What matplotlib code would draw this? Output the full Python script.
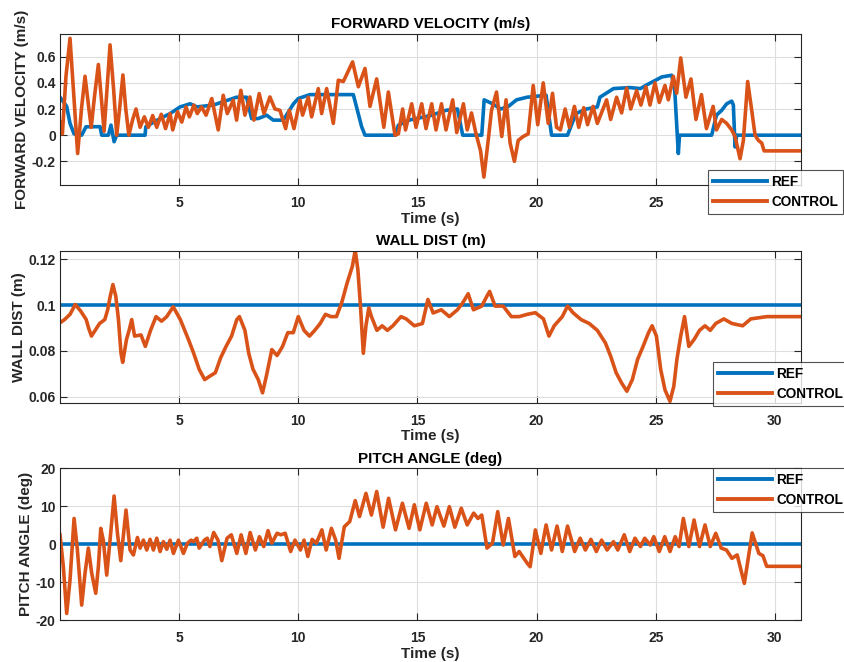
import numpy as np
import matplotlib
matplotlib.use("Agg")
from matplotlib import pyplot as plt

plt.rcParams['font.family'] = ['Liberation Sans', 'DejaVu Sans']

# time span of the record
t_end = 31.1

# ---- FORWARD VELOCITY (m/s) ----
vel_ref_pts = [
    (0.0, 0.29), (0.28, 0.22), (0.42, 0.09), (0.59, 0.01), (0.91, 0.0), (1.09, 0.064),
    (1.68, 0.065), (1.75, 0.0), (2.03, 0.0), (2.14, 0.077), (2.27, -0.05), (2.38, 0.0),
    (3.57, 0.0), (3.6, 0.064), (4.2, 0.127), (4.62, 0.165), (5.04, 0.216), (5.46, 0.24),
    (5.74, 0.216), (6.43, 0.23), (7.41, 0.29), (7.83, 0.29), (8.04, 0.127), (8.32, 0.127),
    (8.67, 0.153), (8.95, 0.115), (9.37, 0.115), (9.8, 0.24), (10.0, 0.28), (10.49, 0.31),
    (12.31, 0.31), (12.66, 0.064), (12.8, 0.0), (14.08, 0.0), (14.2, 0.076), (14.65, 0.115),
    (15.55, 0.15), (16.2, 0.19), (16.68, 0.2), (16.9, 0.0), (17.7, 0.0), (17.8, 0.27),
    (18.15, 0.24), (18.5, 0.2), (18.82, 0.22), (19.16, 0.27), (19.6, 0.29), (20.4, 0.305),
    (20.63, 0.0), (21.3, 0.0), (21.65, 0.165), (22.1, 0.2), (22.55, 0.216), (22.66, 0.29),
    (23.23, 0.356), (23.9, 0.364), (24.36, 0.356), (24.58, 0.38), (25.26, 0.445), (25.67, 0.458),
    (25.8, 0.34), (25.95, -0.14), (26.0, 0.0), (27.35, 0.0), (27.55, 0.153), (27.77, 0.19),
    (27.98, 0.24), (28.19, 0.26), (28.26, 0.23), (28.33, -0.09), (28.4, 0.0), (t_end, 0.0),
]
vel_ctl_pts = [
    (0.0, 0.10), (0.10, 0.01), (0.25, 0.45), (0.42, 0.74), (0.58, 0.30), (0.74, -0.14),
    (0.90, 0.20), (1.05, 0.45), (1.20, 0.22), (1.31, 0.06), (1.45, 0.30), (1.61, 0.54),
    (1.75, 0.25), (1.85, 0.03), (1.97, 0.35), (2.10, 0.69), (2.25, 0.35), (2.38, 0.0),
    (2.50, 0.20), (2.64, 0.46), (2.76, 0.20), (2.89, 0.0), (3.05, 0.12), (3.19, 0.20),
    (3.36, 0.06), (3.54, 0.14), (3.71, 0.06), (3.89, 0.15), (4.06, 0.06), (4.25, 0.16),
    (4.43, 0.05), (4.62, 0.165), (4.73, 0.04), (4.93, 0.18), (5.11, 0.10), (5.29, 0.216),
    (5.43, 0.14), (5.62, 0.23), (5.76, 0.165), (5.94, 0.216), (6.13, 0.153), (6.37, 0.28),
    (6.64, 0.04), (6.85, 0.305), (7.02, 0.165), (7.27, 0.267), (7.41, 0.115), (7.59, 0.343),
    (7.76, 0.153), (7.97, 0.292), (8.14, 0.115), (8.36, 0.318), (8.56, 0.165), (8.81, 0.292),
    (9.02, 0.2), (9.23, 0.19), (9.47, 0.05), (9.62, 0.19), (9.82, 0.05), (10.07, 0.267),
    (10.18, 0.153), (10.42, 0.29), (10.56, 0.14), (10.84, 0.356), (10.98, 0.165), (11.19, 0.356),
    (11.47, 0.09), (11.68, 0.42), (11.89, 0.41), (12.28, 0.56), (12.52, 0.37), (12.8, 0.51),
    (13.01, 0.22), (13.29, 0.43), (13.59, 0.06), (13.78, 0.33), (14.06, 0.0), (14.2, 0.01),
    (14.38, 0.20), (14.50, 0.04),
    (14.76, 0.24), (14.94, 0.06), (15.18, 0.24), (15.36, 0.05), (15.60, 0.24), (15.78, 0.04),
    (16.01, 0.24), (16.20, 0.04), (16.48, 0.27), (16.65, 0.02), (16.93, 0.24), (17.09, 0.04),
    (17.27, 0.17), (17.46, 0.01), (17.65, -0.12), (17.79, -0.32), (17.97, -0.04), (18.11, 0.19),
    (18.32, 0.33), (18.54, -0.01), (18.72, 0.27), (18.89, -0.06), (19.07, -0.20), (19.23, -0.04),
    (19.44, -0.01), (19.65, 0.01), (19.86, 0.38), (20.05, 0.08), (20.28, 0.40), (20.49, 0.09),
    (20.67, 0.32), (20.84, 0.06), (21.00, 0.04), (21.20, 0.20), (21.38, 0.06), (21.59, 0.22),
    (21.77, 0.06), (21.98, 0.21), (22.14, 0.08), (22.37, 0.22), (22.55, 0.09), (22.94, 0.27),
    (23.11, 0.12), (23.36, 0.29), (23.57, 0.17), (23.78, 0.36), (23.95, 0.20), (24.20, 0.34),
    (24.38, 0.23), (24.59, 0.37), (24.76, 0.23), (24.97, 0.40), (25.15, 0.25), (25.39, 0.38),
    (25.53, 0.27), (25.74, 0.45), (25.88, 0.32), (26.05, 0.59), (26.27, 0.29), (26.48, 0.43),
    (26.69, 0.12), (26.92, 0.31), (27.13, 0.05), (27.41, 0.22), (27.55, 0.04), (27.77, 0.12),
    (27.98, 0.09), (28.19, 0.04), (28.33, -0.01), (28.54, -0.18), (28.68, -0.04), (28.86, 0.41),
    (29.03, 0.19), (29.17, 0.0), (29.31, -0.04), (29.45, -0.06), (29.55, -0.12), (t_end, -0.12),
]

# ---- WALL DIST (m) ----
wall_ref_pts = [(0.0, 0.1), (t_end, 0.1)]
wall_ctl_pts = [
    (0.0, 0.0923), (0.19, 0.0937), (0.42, 0.096), (0.64, 0.1003), (0.87, 0.0974), (1.1, 0.0937),
    (1.2, 0.090), (1.32, 0.0865), (1.66, 0.092), (1.88, 0.0937), (2.0, 0.098), (2.11, 0.104),
    (2.22, 0.109), (2.34, 0.104), (2.45, 0.094), (2.56, 0.079), (2.63, 0.075), (2.79, 0.085),
    (2.9, 0.089), (3.01, 0.0937), (3.13, 0.0865), (3.4, 0.087), (3.58, 0.082), (3.8, 0.089),
    (4.03, 0.095), (4.26, 0.093), (4.48, 0.095), (4.75, 0.0993), (5.05, 0.0937), (5.39, 0.085),
    (5.61, 0.079), (5.84, 0.072), (6.07, 0.0675), (6.29, 0.069), (6.52, 0.0705), (6.74, 0.077),
    (6.97, 0.082), (7.2, 0.0865), (7.42, 0.0937), (7.53, 0.095), (7.76, 0.089), (7.92, 0.079),
    (8.1, 0.072), (8.32, 0.0675), (8.5, 0.0617), (8.66, 0.069), (8.89, 0.0806), (9.11, 0.078),
    (9.34, 0.082), (9.56, 0.088), (9.79, 0.088), (10.0, 0.095), (10.24, 0.089), (10.47, 0.0865),
    (10.69, 0.089), (10.92, 0.092), (11.14, 0.096), (11.37, 0.095), (11.6, 0.095), (11.82, 0.101),
    (12.05, 0.1097), (12.27, 0.117), (12.39, 0.124), (12.5, 0.1156), (12.61, 0.0996), (12.73, 0.079),
    (12.84, 0.091), (12.96, 0.0988), (13.07, 0.095), (13.3, 0.089), (13.52, 0.091), (13.74, 0.089),
    (13.97, 0.091), (14.31, 0.095), (14.53, 0.094), (14.87, 0.091), (15.21, 0.092), (15.44, 0.1025),
    (15.66, 0.0966), (16.0, 0.098), (16.34, 0.095), (16.68, 0.098), (16.9, 0.101), (17.13, 0.105),
    (17.35, 0.098), (17.7, 0.0996), (17.92, 0.104), (18.03, 0.106), (18.26, 0.0996), (18.6, 0.0996),
    (18.94, 0.095), (19.27, 0.095), (19.61, 0.096), (19.95, 0.0967), (20.29, 0.094), (20.52, 0.0865),
    (20.74, 0.091), (21.08, 0.095), (21.3, 0.0996), (21.53, 0.0967), (21.87, 0.0937), (22.21, 0.092),
    (22.55, 0.089), (22.89, 0.0835), (23.11, 0.0777), (23.34, 0.0705), (23.57, 0.066), (23.79, 0.0624),
    (24.02, 0.0675), (24.24, 0.0763), (24.47, 0.082), (24.7, 0.088), (24.85, 0.091), (25.03, 0.0865),
    (25.21, 0.0719), (25.39, 0.063), (25.6, 0.058), (25.76, 0.0646), (25.89, 0.0763), (26.05, 0.0865),
    (26.21, 0.095), (26.39, 0.082), (26.61, 0.085), (26.84, 0.089), (27.07, 0.091), (27.29, 0.089),
    (27.52, 0.092), (27.86, 0.094), (28.2, 0.092), (28.65, 0.091), (28.99, 0.094), (29.33, 0.0945),
    (29.66, 0.095), (t_end, 0.095),
]

# ---- PITCH ANGLE (deg) ----
pitch_ref_pts = [(0.0, 0.0), (t_end, 0.0)]
pitch_ctl_pts = [
    (0.0, 2.5), (0.14, -5.9), (0.28, -18.2), (0.42, -9.4), (0.59, 6.8), (0.73, -1.5),
    (0.91, -16.0), (1.05, -7.6), (1.19, -1.0), (1.33, -7.6), (1.5, -12.9), (1.61, -5.9),
    (1.71, 4.2), (1.82, 1.0), (1.96, -8.1), (2.1, 1.1), (2.27, 12.7), (2.41, 2.9),
    (2.55, -4.3), (2.77, 9.0), (2.94, -1.5), (3.08, -2.8), (3.25, 1.8), (3.36, -1.0),
    (3.5, 1.1), (3.64, -1.5), (3.78, 1.3), (3.92, -1.5), (4.06, 1.6), (4.2, -1.9),
    (4.34, 0.7), (4.48, -1.3), (4.62, 1.1), (4.76, -2.4), (4.97, 1.1), (5.18, -2.4),
    (5.35, 0.3), (5.5, 1.1), (5.6, 0.7), (5.74, 1.6), (5.84, -1.0), (6.06, 1.1),
    (6.18, 1.6), (6.29, -0.6), (6.45, 3.1), (6.63, 1.1), (6.79, -4.3), (7.01, 1.6),
    (7.19, 2.5), (7.42, -2.4), (7.6, 2.5), (7.8, -2.4), (7.98, 3.1), (8.2, -1.5),
    (8.37, 2.0), (8.55, -0.6), (8.73, 3.6), (8.89, 0.3), (9.11, 2.9), (9.27, 2.5),
    (9.45, 2.9), (9.68, -1.9), (9.86, 1.1), (10.09, -1.5), (10.24, 1.1), (10.4, -3.2),
    (10.58, 1.3), (10.76, 0.3), (10.99, 3.8), (11.17, -1.5), (11.39, 4.2), (11.57, 1.1),
    (11.71, -3.7), (11.93, 4.6), (12.16, 6.0), (12.39, 11.5), (12.57, 7.3), (12.84, 13.4),
    (13.07, 7.7), (13.29, 13.9), (13.56, 4.5), (13.79, 12.1), (14.08, 3.8), (14.37, 10.8),
    (14.65, 4.2), (14.87, 10.4), (15.1, 3.8), (15.37, 10.8), (15.62, 5.1), (15.82, 9.9),
    (16.11, 4.8), (16.34, 9.9), (16.57, 4.5), (16.84, 9.5), (17.09, 5.1), (17.36, 8.2),
    (17.54, 6.8), (17.7, 7.7), (17.92, -1.0), (18.15, 0.3), (18.37, 8.6), (18.6, -0.2),
    (18.82, 6.8), (19.09, -3.2), (19.27, -1.9), (19.61, -5.0), (19.73, -5.9), (19.95, 3.8),
    (20.18, -2.4), (20.4, 5.1), (20.63, -1.5), (20.86, 4.8), (21.08, -1.9), (21.3, 4.8),
    (21.6, -1.9), (21.83, 1.6), (22.05, -1.5), (22.28, 1.3), (22.51, -1.9), (22.73, 1.1),
    (22.96, -1.5), (23.23, 0.7), (23.41, -1.5), (23.68, 2.5), (23.91, -1.9), (24.13, 1.6),
    (24.36, -0.6), (24.54, 1.6), (24.77, -0.2), (24.92, 2.0), (25.15, -1.9), (25.38, 2.0),
    (25.6, -1.9), (25.82, 2.0), (25.98, -0.6), (26.16, 6.8), (26.39, -0.6), (26.61, 6.4),
    (26.84, -0.6), (27.07, 5.1), (27.29, -0.6), (27.52, 2.9), (27.75, -1.0), (27.97, -1.5),
    (28.2, -3.7), (28.42, -2.8), (28.72, -10.3), (28.94, -1.5), (29.05, 3.0), (29.33, -2.4),
    (29.5, -3.0), (29.66, -5.8), (t_end, -5.8),
]

x_ticks = [5, 10, 15, 20, 25, 30]
# in the top panel the legend hides the "30" label
vel_xlabels = ['5', '10', '15', '20', '25', '']
xlabels = ['5', '10', '15', '20', '25', '30']
vel_yticks = [-0.2, 0, 0.2, 0.4, 0.6]
vel_ylabels = ['-0.2', '0', '0.2', '0.4', '0.6']
wall_yticks = [0.06, 0.08, 0.1, 0.12]
wall_ylabels = ['0.06', '0.08', '0.1', '0.12']
pitch_yticks = [-20, -10, 0, 10, 20]
pitch_ylabels = ['-20', '-10', '0', '10', '20']

blue = '#0072BD'
orange = '#D95319'
dark = '#262626'

fig = plt.figure(figsize=(8.44, 6.62), dpi=100)

panels = [
    dict(rect=[0.0711, 0.7205, 0.878, 0.2281], ref=vel_ref_pts, ctl=vel_ctl_pts,
         title='FORWARD VELOCITY (m/s)', ylabel='FORWARD VELOCITY (m/s)', xlabels=vel_xlabels,
         ylim=(-0.381, 0.773), yticks=vel_yticks, ylabels=vel_ylabels, leg=(0.8389, 0.7432)),
    dict(rect=[0.0711, 0.3917, 0.878, 0.2296], ref=wall_ref_pts, ctl=wall_ctl_pts,
         title='WALL DIST (m)', ylabel='WALL DIST (m)', xlabels=xlabels,
         ylim=(0.0574, 0.1238), yticks=wall_yticks, ylabels=wall_ylabels, leg=(0.8448, 0.4532)),
    dict(rect=[0.0711, 0.0630, 0.878, 0.2296], ref=pitch_ref_pts, ctl=pitch_ctl_pts,
         title='PITCH ANGLE (deg)', ylabel='PITCH ANGLE (deg)', xlabels=xlabels,
         ylim=(-20, 20), yticks=pitch_yticks, ylabels=pitch_ylabels, leg=(0.8448, 0.2930)),
]

for p in panels:
    ax = fig.add_axes(p['rect'])
    rt, rv = np.array(p['ref']).T
    ct, cv = np.array(p['ctl']).T
    ax.plot(rt, rv, color=blue, lw=2.6, label='REF', solid_joinstyle='round')
    ax.plot(ct, cv, color=orange, lw=2.6, label='CONTROL', solid_joinstyle='round')
    ax.set_xlim(0, t_end)
    ax.set_ylim(*p['ylim'])
    ax.set_xticks(x_ticks)
    ax.set_xticklabels(p['xlabels'])
    ax.set_yticks(p['yticks'])
    ax.set_yticklabels(p['ylabels'])
    ax.grid(True, color='#dedede', lw=0.8)
    ax.set_axisbelow(True)
    ax.tick_params(direction='in', top=True, right=True, length=5, width=0.8,
                   colors=dark, labelsize=10)
    ax.tick_params(axis='x', pad=8)
    ax.tick_params(axis='y', pad=3)
    for lab in ax.get_xticklabels() + ax.get_yticklabels():
        lab.set_fontweight('bold')
    for s in ax.spines.values():
        s.set_color(dark)
        s.set_linewidth(0.8)
    ax.set_title(p['title'], fontsize=11, fontweight='bold', color='black', pad=4)
    ax.set_ylabel(p['ylabel'], fontsize=11, fontweight='bold', color=dark, labelpad=2)
    ax.set_xlabel('Time (s)', fontsize=11, fontweight='bold', color=dark, labelpad=1)
    leg = fig.legend(handles=ax.get_lines(), loc='upper left', bbox_to_anchor=p['leg'],
                     bbox_transform=fig.transFigure, borderaxespad=0, frameon=True,
                     fancybox=False, handlelength=4.0, borderpad=0.35, labelspacing=0.45,
                     handletextpad=0.3, prop={'weight': 'bold', 'size': 9.8})
    leg.get_frame().set_edgecolor(dark)
    leg.get_frame().set_linewidth(0.8)
    for ln in leg.get_lines():
        ln.set_linewidth(2.8)

fig.savefig('out.png', dpi=100)
